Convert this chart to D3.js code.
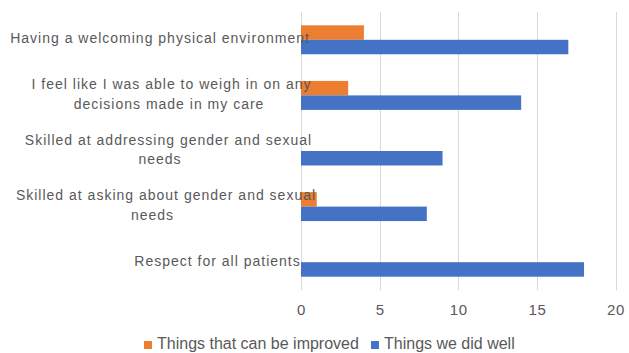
<!DOCTYPE html>
<html>
<head>
<meta charset="utf-8">
<script src="https://cdn.jsdelivr.net/npm/d3@7"></script>
<style>
  html, body { margin: 0; padding: 0; background: #ffffff; }
  svg { display: block; font-family: "Liberation Sans", Arial, Helvetica, sans-serif; }
</style>
</head>
<body>
<svg id="chart" width="629" height="353"></svg>
<script>
// Survey feedback, top to bottom
const categories = [
  "Having a welcoming physical environment",
  "I feel like I was able to weigh in on any decisions made in my care",
  "Skilled at addressing gender and sexual needs",
  "Skilled at asking about gender and sexual needs",
  "Respect for all patients"
];
const seriesNames = ["Things that can be improved", "Things we did well"];
const improvedValues = [4, 3, 0, 1, 0];
const didWellValues = [17, 14, 9, 8, 18];
const xTickValues = [0, 5, 10, 15, 20];

const seriesColors = ["#ED7D31", "#4472C4"];
const textColor = "#595959";
const gridColor = "#d9d9d9";

const rows = categories.map((c, i) => ({
  category: c,
  values: [improvedValues[i], didWellValues[i]]
}));

const svg = d3.select("#chart");
const plot = { left: 301, right: 615.5, top: 12, bottom: 290 };

const x = d3.scaleLinear().domain([0, 20]).range([plot.left, plot.right]);
const y0 = d3.scaleBand().domain(categories).range([plot.top, plot.bottom]).padding(0);
const y1 = d3.scaleBand().domain([0, 1]).range([0, y0.bandwidth()])
  .paddingInner(0).paddingOuter(0.92);

// vertical gridlines
svg.append("g")
  .selectAll("line")
  .data(xTickValues)
  .join("line")
  .attr("x1", d => Math.round(x(d)) + 0.5)
  .attr("x2", d => Math.round(x(d)) + 0.5)
  .attr("y1", plot.top)
  .attr("y2", plot.bottom)
  .attr("stroke", gridColor)
  .attr("stroke-width", 1);

// bars
const groups = svg.append("g")
  .selectAll("g")
  .data(rows)
  .join("g")
  .attr("transform", d => `translate(0,${y0(d.category)})`);

groups.selectAll("rect")
  .data(d => d.values.map((v, s) => ({ v, s })))
  .join("rect")
  .attr("x", x(0))
  .attr("y", d => y1(d.s))
  .attr("width", d => x(d.v) - x(0))
  .attr("height", y1.bandwidth())
  .attr("fill", d => seriesColors[d.s]);

// x axis tick labels
const xAxis = d3.axisBottom(x).tickValues(xTickValues).tickSize(0).tickPadding(0);
const xg = svg.append("g").attr("transform", `translate(0,315)`).call(xAxis);
xg.select(".domain").remove();
xg.selectAll("text")
  .attr("dy", 0)
  .attr("fill", textColor)
  .style("font-size", "15px")
  .style("letter-spacing", "0.6px")
  .style("font-family", "'Liberation Sans', Arial, sans-serif");

// category labels, wrapped
const labelFontSize = 14;
const labelSpacing = "1px";
const wrapWidth = 305;
const lineHeight = 19.3;
// centre x of each wrapped line
const labelLineCenters = [[160], [171.5, 169], [168.5, 160], [166, 152.5], [217.5]];

const measure = svg.append("text")
  .style("font-size", labelFontSize + "px")
  .style("letter-spacing", labelSpacing)
  .attr("visibility", "hidden");

function wrap(str) {
  const words = str.split(" ");
  const lines = [];
  let line = [];
  words.forEach(w => {
    const trial = line.concat([w]).join(" ");
    measure.text(trial);
    if (measure.node().getComputedTextLength() > wrapWidth && line.length) {
      lines.push(line.join(" "));
      line = [w];
    } else {
      line.push(w);
    }
  });
  if (line.length) lines.push(line.join(" "));
  return lines;
}

const labels = svg.append("g");
categories.forEach((c, i) => {
  const lines = wrap(c);
  const cy = y0(c) + y0.bandwidth() / 2;
  const n = lines.length;
  const t = labels.append("text")
    .attr("fill", textColor)
    .attr("text-anchor", "middle")
    .style("font-size", labelFontSize + "px")
    .style("letter-spacing", labelSpacing);
  lines.forEach((ln, j) => {
    const centers = labelLineCenters[i] || [];
    const cx = centers[j] !== undefined ? centers[j] : centers[centers.length - 1];
    t.append("tspan")
      .attr("x", cx)
      .attr("y", cy + (j - (n - 1) / 2) * lineHeight + 3.5)
      .text(ln);
  });
});
measure.remove();

// legend
const legend = svg.append("g").attr("transform", "translate(144,341)");
const legendOffsets = [0, 227];
seriesNames.forEach((name, s) => {
  const g = legend.append("g").attr("transform", `translate(${legendOffsets[s]},0)`);
  g.append("rect").attr("width", 8).attr("height", 8).attr("fill", seriesColors[s]);
  g.append("text")
    .attr("x", 13)
    .attr("y", 7.5)
    .attr("fill", textColor)
    .style("font-size", "16px")
    .text(name);
});
</script>
</body>
</html>
